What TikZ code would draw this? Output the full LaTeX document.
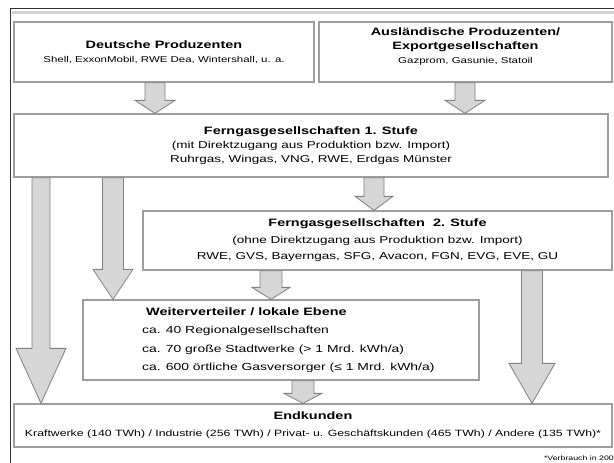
\documentclass[tikz,border=0pt]{standalone}
\usepackage{fontspec}
\setmainfont{Liberation Sans}[FakeStretch=1.35]
\usetikzlibrary{calc}
\definecolor{boxline}{gray}{0.62}
\definecolor{arrowfill}{gray}{0.84}
\definecolor{arrowline}{gray}{0.5}
\tikzstyle{box}=[draw=boxline, line width=1.3pt, fill=white, inner sep=0pt, align=center, font=\fontsize{8.5}{14}\selectfont]
\tikzstyle{flow}=[draw=arrowline, fill=arrowfill, line width=0.8pt, line join=miter]
\newcommand{\titel}{\bfseries\fontsize{10.7}{14}\selectfont}
\newcommand{\blockarrow}[5]{\draw[flow] ($(#1)+(-#3,0)$) -- ($(#2)+(-#3,-#5)$) -- ($(#2)+(-#4,-#5)$) -- (#2) -- ($(#2)+(#4,-#5)$) -- ($(#2)+(#3,-#5)$) -- ($(#1)+(#3,0)$) -- cycle;}

\begin{document}
\begin{tikzpicture}[x=1pt, y=-1pt]
\useasboundingbox (0,0) rectangle (614,463);
\draw[line width=1pt, black!80] (10,470) -- (10,8) -- (620,8);
\draw[line width=3pt, gray!35] (11.5,12) -- (620,12);
\node[box, minimum width=300pt, minimum height=60pt] (D) at (164,52) {{\titel Deutsche Produzenten}\\Shell, ExxonMobil, RWE Dea, Wintershall, u. a.};
\node[box, minimum width=293pt, minimum height=60pt, text depth=12pt] (A) at (465.5,52) {{\titel Ausländische Produzenten/}\\{\titel Exportgesellschaften}\\Gazprom, Gasunie, Statoil};
\node[box, minimum width=594pt, minimum height=63pt, font=\fontsize{10}{14}\selectfont] (F1) at (311,145.5) {{\titel Ferngasgesellschaften 1. Stufe}\\(mit Direktzugang aus Produktion bzw. Import)\\Ruhrgas, Wingas, VNG, RWE, Erdgas Münster};
\node[box, minimum width=469pt, minimum height=59pt, font=\fontsize{10}{16.5}\selectfont] (F2) at (377.5,240.5) {{\titel Ferngasgesellschaften\ \ 2. Stufe}\\(ohne Direktzugang aus Produktion bzw. Import)\\RWE, GVS, Bayerngas, SFG, Avacon, FGN, EVG, EVE, GU};
\node[box, minimum width=396pt, minimum height=80pt] (W) at (281,340) {};
\node[anchor=west, inner sep=0pt, align=left, font=\fontsize{10.3}{18.5}\selectfont] (Wtext) at (142,340) {{\titel\ Weiterverteiler / lokale Ebene}\\ca. 40 Regionalgesellschaften\\ca. 70 große Stadtwerke (> 1 Mrd. kWh/a)\\ca. 600 örtliche Gasversorger (≤ 1 Mrd. kWh/a)};
\node[box, minimum width=598pt, minimum height=43pt, font=\fontsize{9.1}{17}\selectfont] (E) at (313,425.5) {{\titel Endkunden}\\Kraftwerke (140 TWh) / Industrie (256 TWh) / Privat- u. Geschäftskunden (465 TWh) / Andere (135 TWh)*};
\node[anchor=east, inner sep=0pt, font=\fontsize{6.5}{8}\selectfont] (fn) at (614,458) {*Verbrauch in 200};
\coordinate (c1) at (155,0);
\coordinate (c2) at (465,0);
\coordinate (c3) at (41,0);
\coordinate (c4) at (113,0);
\coordinate (c5) at (374,0);
\coordinate (c6) at (271,0);
\coordinate (c7) at (532,0);
\coordinate (c8) at (303,0);
\blockarrow{D.south -| c1}{F1.north -| c1}{10}{20}{13}
\blockarrow{A.south -| c2}{F1.north -| c2}{10}{20}{13}
\blockarrow{F1.south -| c3}{E.north -| c3}{9}{25}{55}
\blockarrow{F1.south -| c4}{W.north -| c4}{10.5}{20}{30}
\blockarrow{F1.south -| c5}{F2.north -| c5}{10}{19}{14}
\blockarrow{F2.south -| c6}{W.north -| c6}{11}{19}{12}
\blockarrow{F2.south -| c7}{E.north -| c7}{10.5}{23}{40}
\blockarrow{W.south -| c8}{E.north -| c8}{11}{19}{10}
\end{tikzpicture}
\end{document}
